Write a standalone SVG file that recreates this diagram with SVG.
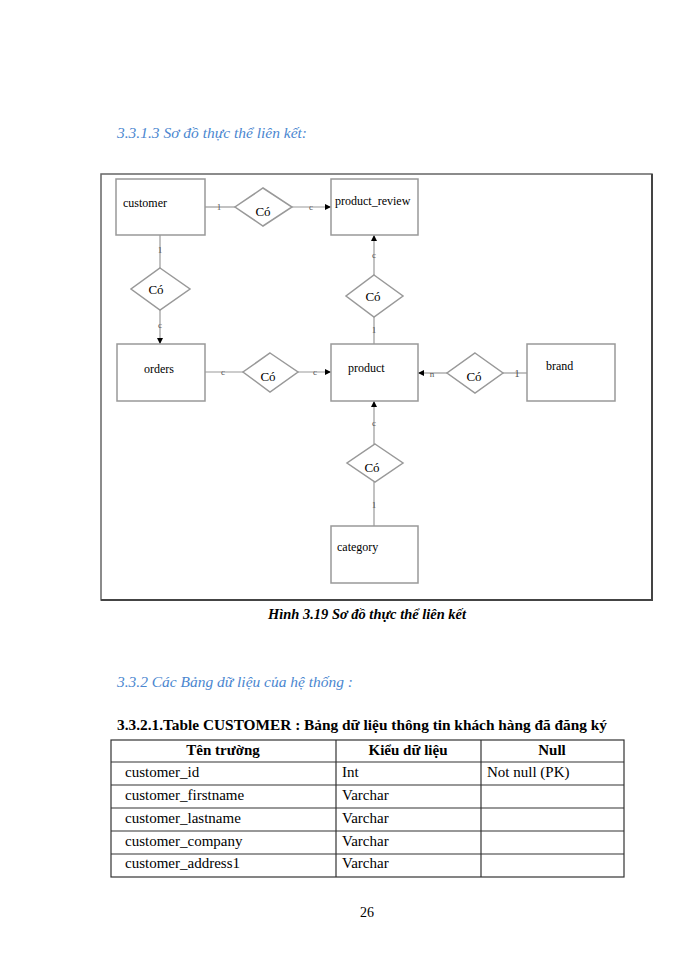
<svg xmlns="http://www.w3.org/2000/svg" width="700" height="960" viewBox="0 0 700 960">
<style>
text{font-family:"Liberation Serif","Times New Roman",serif;fill:#000}
.h{fill:#4a86cf;font-style:italic;font-size:15px}
.ent{fill:#fff;stroke:#999;stroke-width:1.5}
.rel{fill:#fff;stroke:#999;stroke-width:1.5}
.et{font-size:12px}
.rt{font-size:13px;text-anchor:middle}
.ln{stroke:#999;stroke-width:1.2;fill:none}
.lb{font-size:9px;text-anchor:middle;fill:#555}
.tb{fill:none;stroke:#333;stroke-width:1.2}
.tt{font-size:15px}
.th{font-size:15px;font-weight:bold;text-anchor:middle}
</style>
<defs>
<marker id="ar" viewBox="0 0 10 10" refX="10" refY="5" markerWidth="6" markerHeight="6" orient="auto" markerUnits="userSpaceOnUse">
<path d="M0,0 L10,5 L0,10 z" fill="#000"/>
</marker>
</defs>
<rect width="700" height="960" fill="#fff"/>
<text class="h" x="117" y="138" textLength="190" lengthAdjust="spacingAndGlyphs">3.3.1.3 Sơ đồ thực thể liên kết:</text>
<rect x="101" y="174" width="551" height="426" fill="none" stroke="#666" stroke-width="1.5"/>
<line x1="652" y1="174" x2="652" y2="601" stroke="#444" stroke-width="2"/>
<line x1="101" y1="600" x2="653" y2="600" stroke="#444" stroke-width="2"/>

<g id="connectors">
<line class="ln" x1="205" y1="207" x2="235" y2="207"/>
<line class="ln" x1="292" y1="207" x2="331" y2="207" marker-end="url(#ar)"/>
<line class="ln" x1="160" y1="235" x2="160" y2="268"/>
<line class="ln" x1="160" y1="310" x2="160" y2="344" marker-end="url(#ar)"/>
<line class="ln" x1="205" y1="372" x2="243" y2="372"/>
<line class="ln" x1="298" y1="372" x2="331" y2="372" marker-end="url(#ar)"/>
<line class="ln" x1="374" y1="344" x2="374" y2="317"/>
<line class="ln" x1="374" y1="275" x2="374" y2="235" marker-end="url(#ar)"/>
<line class="ln" x1="527" y1="373" x2="503" y2="373"/>
<line class="ln" x1="447" y1="373" x2="418" y2="373" marker-end="url(#ar)"/>
<line class="ln" x1="374" y1="526" x2="374" y2="482"/>
<line class="ln" x1="374" y1="444" x2="374" y2="401" marker-end="url(#ar)"/>
<text class="lb" x="219" y="210">1</text>
<text class="lb" x="311" y="210">c</text>
<text class="lb" x="160" y="253">1</text>
<text class="lb" x="160" y="328">c</text>
<text class="lb" x="223" y="375">c</text>
<text class="lb" x="315" y="375">c</text>
<text class="lb" x="374" y="333">1</text>
<text class="lb" x="374" y="258">c</text>
<text class="lb" x="517" y="377" style="font-size:11px">1</text>
<text class="lb" x="432" y="377">n</text>
<text class="lb" x="374" y="508">1</text>
<text class="lb" x="374" y="426">c</text>
</g>

<g id="customer"><rect class="ent" x="116" y="179" width="89" height="56"/><text class="et" x="123" y="207">customer</text></g>
<g id="product_review"><rect class="ent" x="331" y="179" width="87" height="56"/><text class="et" x="335" y="205">product_review</text></g>
<g id="orders"><rect class="ent" x="117" y="344" width="88" height="57"/><text class="et" x="144" y="373">orders</text></g>
<g id="product"><rect class="ent" x="331" y="344" width="87" height="57"/><text class="et" x="348" y="372">product</text></g>
<g id="brand"><rect class="ent" x="527" y="344" width="88" height="57"/><text class="et" x="546" y="370">brand</text></g>
<g id="category"><rect class="ent" x="331" y="526" width="87" height="57"/><text class="et" x="337" y="551">category</text></g>

<g id="rel_customer_review"><polygon class="rel" points="263,188 292,207 263,226 235,207"/><text class="rt" x="263" y="216">Có</text></g>
<g id="rel_customer_orders"><polygon class="rel" points="160,268 190,289 160,310 131,289"/><text class="rt" x="156" y="294">Có</text></g>
<g id="rel_product_review"><polygon class="rel" points="374,275 403,296 374,317 346,296"/><text class="rt" x="373" y="301">Có</text></g>
<g id="rel_orders_product"><polygon class="rel" points="270,353 298,372 270,392 243,372"/><text class="rt" x="268" y="381">Có</text></g>
<g id="rel_brand_product"><polygon class="rel" points="475,353 503,373 475,393 447,373"/><text class="rt" x="474" y="381">Có</text></g>
<g id="rel_category_product"><polygon class="rel" points="375,444 403,463 375,482 347,463"/><text class="rt" x="372" y="472">Có</text></g>

<text x="268" y="619" textLength="198" lengthAdjust="spacingAndGlyphs" style="font-size:14px;font-weight:bold;font-style:italic">Hình 3.19 Sơ đồ thực thể liên kết</text>
<text class="h" x="117" y="687" textLength="236" lengthAdjust="spacingAndGlyphs">3.3.2 Các Bảng dữ liệu của hệ thống :</text>
<text x="117" y="730" textLength="490" lengthAdjust="spacingAndGlyphs" style="font-size:15px;font-weight:bold">3.3.2.1.Table CUSTOMER  : Bảng dữ liệu thông  tin khách hàng đã đăng ký</text>

<g id="table">
<rect class="tb" x="111" y="740" width="513" height="137"/>
<line class="tb" x1="111" y1="762" x2="624" y2="762"/>
<line class="tb" x1="111" y1="785" x2="624" y2="785"/>
<line class="tb" x1="111" y1="808" x2="624" y2="808"/>
<line class="tb" x1="111" y1="831" x2="624" y2="831"/>
<line class="tb" x1="111" y1="854" x2="624" y2="854"/>
<line class="tb" x1="336" y1="740" x2="336" y2="877"/>
<line class="tb" x1="481" y1="740" x2="481" y2="877"/>
<text class="th" x="223" y="755">Tên trường</text>
<text class="th" x="408" y="755">Kiểu dữ liệu</text>
<text class="th" x="552" y="755">Null</text>
<text class="tt" x="125" y="777">customer_id</text>
<text class="tt" x="342" y="777">Int</text>
<text class="tt" x="487" y="777">Not null (PK)</text>
<text class="tt" x="125" y="800">customer_firstname</text>
<text class="tt" x="342" y="800">Varchar</text>
<text class="tt" x="125" y="823">customer_lastname</text>
<text class="tt" x="342" y="823">Varchar</text>
<text class="tt" x="125" y="846">customer_company</text>
<text class="tt" x="342" y="846">Varchar</text>
<text class="tt" x="125" y="868">customer_address1</text>
<text class="tt" x="342" y="868">Varchar</text>
</g>
<text x="367" y="917" style="font-size:14px;text-anchor:middle">26</text>
</svg>
